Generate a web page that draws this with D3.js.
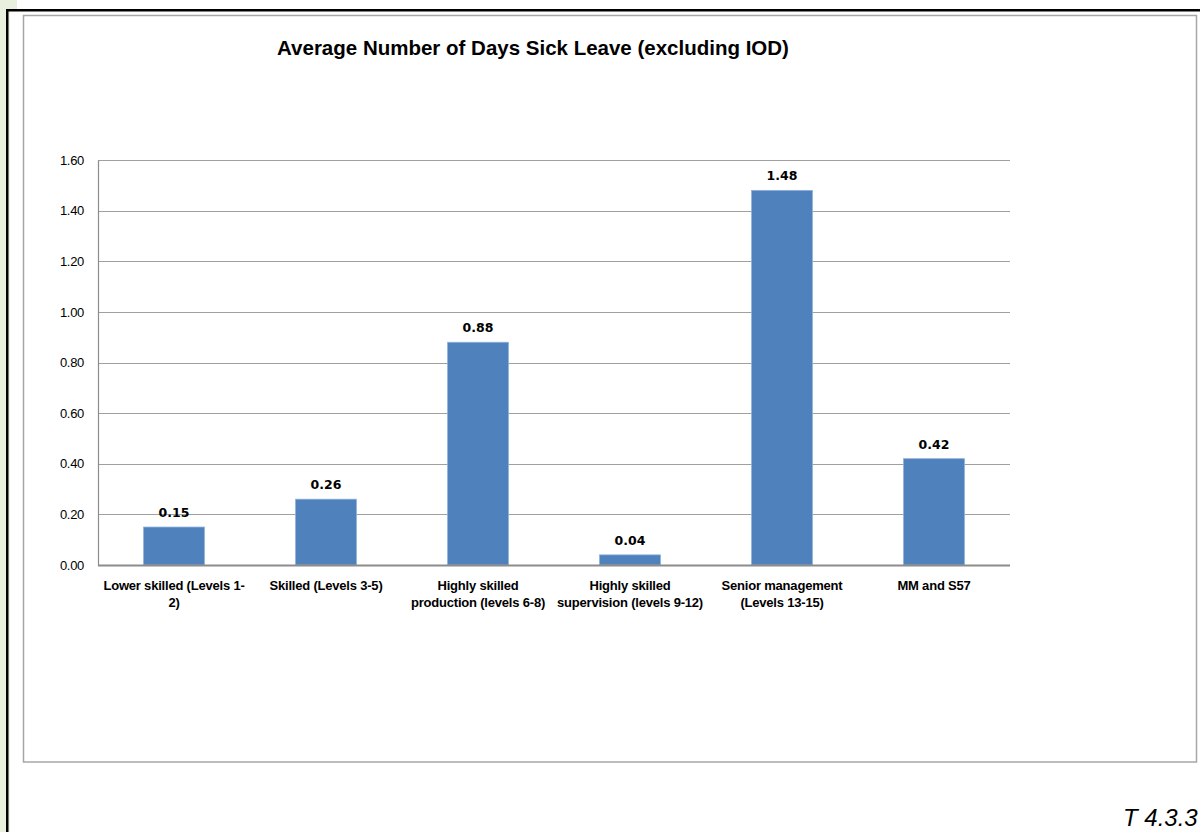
<!DOCTYPE html>
<html>
<head>
<meta charset="utf-8">
<script src="https://cdn.jsdelivr.net/npm/d3@7"></script>
<style>
  html, body { margin: 0; padding: 0; background: #ffffff; }
  svg { display: block; }
</style>
</head>
<body>
<svg id="chart" width="1200" height="832"></svg>
<script>
// Sick leave by occupational category
const categories = [
  ["Lower skilled (Levels 1-", "2)"],
  ["Skilled (Levels 3-5)"],
  ["Highly skilled", "production (levels 6-8)"],
  ["Highly skilled", "supervision (levels 9-12)"],
  ["Senior management", "(Levels 13-15)"],
  ["MM and S57"]
];
const values = [0.15, 0.26, 0.88, 0.04, 1.48, 0.42];
const yTicks = [0, 0.2, 0.4, 0.6, 0.8, 1.0, 1.2, 1.4, 1.6];
const title = "Average Number of Days Sick Leave (excluding IOD)";
const tableRef = "T 4.3.3";

const svg = d3.select("#chart");

// page decoration: green margin strip and black frame lines
svg.append("rect").attr("x", 0).attr("y", 0).attr("width", 17).attr("height", 10).attr("fill", "#e9f1de");
svg.append("rect").attr("x", 0).attr("y", 10).attr("width", 7).attr("height", 822).attr("fill", "#e9f1de");
svg.append("rect").attr("x", 8).attr("y", 11).attr("width", 2).attr("height", 821).attr("fill", "#eef4e6");
svg.append("rect").attr("x", 6).attr("y", 9).attr("width", 1194).attr("height", 2.5).attr("fill", "#000");
svg.append("rect").attr("x", 6).attr("y", 9).attr("width", 2.5).attr("height", 823).attr("fill", "#000");

// chart frame
svg.append("rect")
  .attr("x", 23.5).attr("y", 15.5).attr("width", 1173).attr("height", 746.5)
  .attr("fill", "#fff").attr("stroke", "#a6a6a6").attr("stroke-width", 1.5);

const plot = { left: 98, right: 1010, top: 160, bottom: 565 };

const x = d3.scaleBand()
  .domain(d3.range(categories.length))
  .range([plot.left, plot.right])
  .paddingInner(0.6).paddingOuter(0.3);

const y = d3.scaleLinear().domain([0, 1.6]).range([plot.bottom, plot.top]);

// gridlines
svg.append("g")
  .selectAll("line")
  .data(yTicks.filter(d => d > 0))
  .join("line")
  .attr("x1", plot.left).attr("x2", plot.right)
  .attr("y1", d => Math.round(y(d)) + 0.5).attr("y2", d => Math.round(y(d)) + 0.5)
  .attr("stroke", "#a0a0a0").attr("stroke-width", 1);

// y axis
const yAxis = svg.append("g")
  .attr("transform", `translate(${plot.left},0)`)
  .call(d3.axisLeft(y).tickValues(yTicks).tickFormat(d3.format(".2f")).tickSize(0).tickPadding(14));
yAxis.select(".domain").attr("stroke", "#8c8c8c").attr("stroke-width", 1.2);
yAxis.selectAll("text")
  .attr("font-family", "Liberation Sans, Arial, sans-serif")
  .attr("font-size", 13).attr("letter-spacing", -0.3).attr("fill", "#000");

// bars
svg.append("g")
  .selectAll("rect")
  .data(values)
  .join("rect")
  .attr("x", (d, i) => x(i))
  .attr("width", x.bandwidth())
  .attr("y", d => y(d))
  .attr("height", d => y(0) - y(d))
  .attr("fill", "#4f81bd")
  .attr("stroke", "#8eb0da").attr("stroke-width", 0.8);

// x axis baseline
svg.append("line")
  .attr("x1", plot.left).attr("x2", plot.right)
  .attr("y1", y(0) + 0.5).attr("y2", y(0) + 0.5)
  .attr("stroke", "#8c8c8c").attr("stroke-width", 2);

// value labels
svg.append("g")
  .selectAll("text")
  .data(values)
  .join("text")
  .attr("x", (d, i) => x(i) + x.bandwidth() / 2)
  .attr("y", d => y(d) - 10)
  .attr("text-anchor", "middle")
  .attr("font-family", "DejaVu Sans, sans-serif")
  .attr("font-weight", "bold")
  .attr("font-size", 12.5)
  .attr("fill", "#000")
  .text(d => d3.format(".2f")(d));

// category labels
const catG = svg.append("g");
categories.forEach((lines, i) => {
  const t = catG.append("text")
    .attr("x", x(i) + x.bandwidth() / 2)
    .attr("y", 590)
    .attr("text-anchor", "middle")
    .attr("font-family", "Liberation Sans, Arial, sans-serif")
    .attr("font-weight", "bold")
    .attr("font-size", 13)
    .attr("letter-spacing", -0.2)
    .attr("fill", "#000");
  lines.forEach((ln, j) => {
    t.append("tspan").attr("x", x(i) + x.bandwidth() / 2).attr("dy", j === 0 ? 0 : 17).text(ln);
  });
});

// title
svg.append("text")
  .attr("x", 533).attr("y", 55)
  .attr("text-anchor", "middle")
  .attr("font-family", "Liberation Sans, Arial, sans-serif")
  .attr("font-weight", "bold")
  .attr("font-size", 20.5)
  .attr("fill", "#000")
  .text(title);

// table reference
svg.append("text")
  .attr("x", 1123).attr("y", 826)
  .attr("font-family", "Liberation Sans, Arial, sans-serif")
  .attr("font-style", "italic")
  .attr("font-size", 24)
  .attr("fill", "#000")
  .text(tableRef);
</script>
</body>
</html>
